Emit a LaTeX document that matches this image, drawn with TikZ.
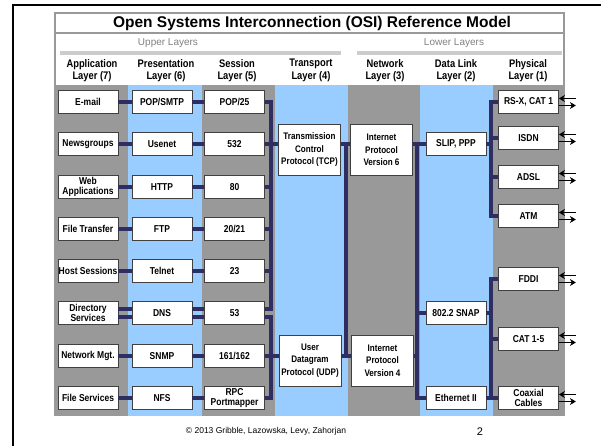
\documentclass[tikz,border=0pt]{standalone}
\usepackage{fontspec}
\setmainfont{Liberation Sans}
\newfontfamily\narrowbold[FakeStretch=0.85]{Liberation Sans Bold}
\usetikzlibrary{arrows.meta,shadows}
\definecolor{colgray}{RGB}{153,153,153}
\definecolor{colblue}{RGB}{153,204,255}
\definecolor{barcol}{RGB}{204,204,204}
\definecolor{navy}{RGB}{46,46,99}
\tikzset{
  proto/.style={draw=black!75, fill=white, line width=0.8pt, minimum width=60pt,
    minimum height=23pt, inner sep=0.5pt, align=center,
    font=\narrowbold\fontsize{10}{9.5}\selectfont,
    drop shadow={shadow xshift=0.8pt, shadow yshift=-0.8pt, fill=black!60, opacity=1}},
  tallproto/.style={proto, minimum width=62pt, minimum height=51pt,
    font=\narrowbold\fontsize{9.5}{12.5}\selectfont},
  head/.style={align=center, font=\narrowbold\fontsize{11}{12.5}\selectfont},
  bus/.style={navy, line width=4.5pt},
  pairbus/.style={navy, line width=3.5pt},
  wire/.style={line width=1.6pt, -{Stealth[length=6pt,width=7pt]}}
}
\begin{document}
\begin{tikzpicture}[x=1pt, y=-1pt]
\useasboundingbox (0,0) rectangle (601,446);
\draw [line width=2pt] (13,446) -- (13,5) -- (601,5);
\fill [colgray] (54,85) rectangle (128,416);
\fill [colblue] (128,85) rectangle (202,416);
\fill [colgray] (202,85) rectangle (275,416);
\fill [colblue] (275,85) rectangle (348,416);
\fill [colgray] (348,85) rectangle (420,416);
\fill [colblue] (420,85) rectangle (493,416);
\fill [colgray] (493,85) rectangle (565,416);
\draw [colgray, line width=2pt] (55,85) -- (55,13) -- (564,13) -- (564,85);
\draw [colgray, line width=2pt] (55,33.3) -- (564,33.3);
\fill [barcol] (60,51.5) rectangle (341,55.5);
\fill [barcol] (357,51.5) rectangle (562,55.5);
\node [font=\bfseries\fontsize{15.5}{18}\selectfont] (title) at (312,23.5) {Open Systems Interconnection (OSI) Reference Model};
\node [text=black!50, font=\fontsize{10}{12}\selectfont] (upper) at (168,43) {Upper Layers};
\node [text=black!50, font=\fontsize{10}{12}\selectfont] (lower) at (454,43) {Lower Layers};
\node [head] (happ) at (92,70.5) {Application\\Layer (7)};
\node [head] (hpre) at (166,70.5) {Presentation\\Layer (6)};
\node [head] (hses) at (237,70.5) {Session\\Layer (5)};
\node [head] (htra) at (311,70.5) {Transport\\Layer (4)};
\node [head] (hnet) at (385,70.5) {Network\\Layer (3)};
\node [head] (hdat) at (456,70.5) {Data Link\\Layer (2)};
\node [head] (hphy) at (528,70.5) {Physical\\Layer (1)};
\node [proto] (app1) at (88,102) {E-mail};
\node [proto] (pre1) at (162,102) {POP/SMTP};
\node [proto] (ses1) at (234.5,102) {POP/25};
\node [proto] (app2) at (88,144) {Newsgroups};
\node [proto] (pre2) at (162,144) {Usenet};
\node [proto] (ses2) at (234.5,144) {532};
\node [proto] (app3) at (88,187) {Web\\Applications};
\node [proto] (pre3) at (162,187) {HTTP};
\node [proto] (ses3) at (234.5,187) {80};
\node [proto] (app4) at (88,229) {File Transfer};
\node [proto] (pre4) at (162,229) {FTP};
\node [proto] (ses4) at (234.5,229) {20/21};
\node [proto] (app5) at (88,271) {Host Sessions};
\node [proto] (pre5) at (162,271) {Telnet};
\node [proto] (ses5) at (234.5,271) {23};
\node [proto] (app6) at (88,313) {Directory\\Services};
\node [proto] (pre6) at (162,313) {DNS};
\node [proto] (ses6) at (234.5,313) {53};
\node [proto] (app7) at (88,356) {Network Mgt.};
\node [proto] (pre7) at (162,356) {SNMP};
\node [proto] (ses7) at (234.5,356) {161/162};
\node [proto] (app8) at (88,398) {File Services};
\node [proto] (pre8) at (162,398) {NFS};
\node [proto] (ses8) at (234.5,398) {RPC\\Portmapper};
\node [tallproto] (tcp) at (309.5,150) {Transmission\\Control\\Protocol (TCP)};
\node [tallproto] (udp) at (310,360.5) {User\\Datagram\\Protocol (UDP)};
\node [tallproto] (ip6) at (381.5,150) {Internet\\Protocol\\Version 6};
\node [tallproto] (ip4) at (382.5,360.5) {Internet\\Protocol\\Version 4};
\node [proto] (slip) at (456,144) {SLIP, PPP};
\node [proto] (snap) at (456,313) {802.2 SNAP};
\node [proto] (eth) at (456,398) {Ethernet II};
\node [proto] (phy1) at (528.5,102) {RS-X, CAT 1};
\node [proto] (phy2) at (528.5,138) {ISDN};
\node [proto] (phy3) at (528.5,177) {ADSL};
\node [proto] (phy4) at (528.5,216) {ATM};
\node [proto] (phy5) at (528.5,279) {FDDI};
\node [proto] (phy6) at (528.5,339) {CAT 1-5};
\node [proto] (phy7) at (528.5,398) {Coaxial\\Cables};
\coordinate (tcpbus) at (271,0);
\coordinate (netbus) at (346,0);
\coordinate (linkbus) at (417,0);
\coordinate (phybus) at (491,0);
\coordinate (dnsup) at ([yshift=4pt]ses6.east);
\coordinate (dnsdown) at ([yshift=-4pt]ses6.east);
\draw [bus] (app1) -- (pre1) -- (ses1);
\draw [bus] (app2) -- (pre2) -- (ses2);
\draw [bus] (app3) -- (pre3) -- (ses3);
\draw [bus] (app4) -- (pre4) -- (ses4);
\draw [bus] (app5) -- (pre5) -- (ses5);
\draw [bus] (app7) -- (pre7) -- (ses7);
\draw [bus] (app8) -- (pre8) -- (ses8);
\draw [pairbus] ([yshift=4pt]app6.east) -- ([yshift=4pt]pre6.west);
\draw [pairbus] ([yshift=-4pt]app6.east) -- ([yshift=-4pt]pre6.west);
\draw [pairbus] ([yshift=4pt]pre6.east) -- ([yshift=4pt]ses6.west);
\draw [pairbus] ([yshift=-4pt]pre6.east) -- ([yshift=-4pt]ses6.west);
\draw [bus] (ses1) -| (tcpbus |- dnsup) -- (dnsup);
\draw [bus] (dnsdown) -| (tcpbus |- ses8) -- (ses8);
\draw [bus] (ses2) -- (tcp.west |- ses2);
\draw [bus] (ses3) -- (tcpbus |- ses3);
\draw [bus] (ses4) -- (tcpbus |- ses4);
\draw [bus] (ses5) -- (tcpbus |- ses5);
\draw [bus] (ses7) -- (udp.west |- ses7);
\draw [bus] (tcp.east |- ses2) -- (ip6.west |- ses2);
\draw [bus] (udp.east |- ses7) -- (ip4.west |- ses7);
\draw [bus] (netbus |- ses2) -- (netbus |- ses7);
\draw [bus] (ip6.east |- slip) -- (slip);
\draw [bus] (linkbus |- slip) |- (eth);
\draw [bus] (linkbus |- snap) -- (snap);
\draw [bus] (ip4.east |- ses7) -- (linkbus |- ses7);
\draw [bus] (phy1) -| (phybus |- phy4) -- (phy4);
\draw [bus] (slip) -- (phybus |- slip);
\draw [bus] (phybus |- phy2) -- (phy2);
\draw [bus] (phybus |- phy3) -- (phy3);
\draw [bus] (phy5) -| (phybus |- phy7) -- (phy7);
\draw [bus] (snap) -- (phybus |- snap);
\draw [bus] (phybus |- phy6) -- (phy6);
\draw [bus] (eth) -- (phybus |- eth);
\foreach \p in {phy1,phy2,phy3,phy4,phy5,phy6,phy7}{
  \coordinate (\p out) at ([xshift=17pt]\p.east);
  \draw [wire] ([yshift=3.5pt]\p out) -- ([yshift=3.5pt]\p.east);
  \draw [wire] ([yshift=-3.5pt]\p.east) -- ([yshift=-3.5pt]\p out);
}
\node [font=\fontsize{8.5}{10}\selectfont] (credit) at (266,431) {\textcopyright{} 2013 Gribble, Lazowska, Levy, Zahorjan};
\node [font=\fontsize{11}{12}\selectfont] (page) at (480,432) {2};
\end{tikzpicture}
\end{document}
